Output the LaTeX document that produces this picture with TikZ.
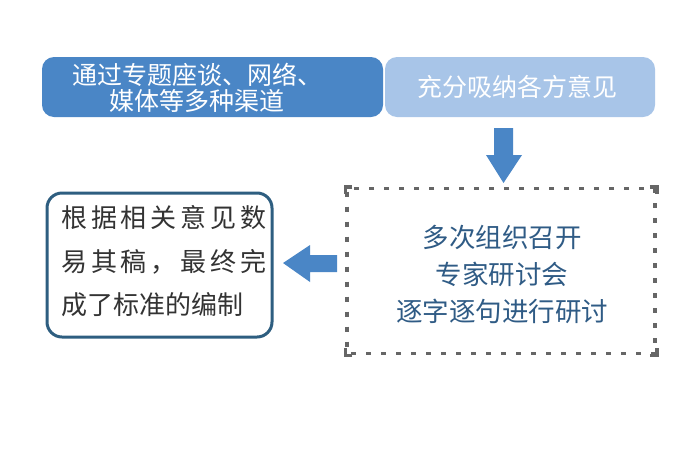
\documentclass[tikz,border=0pt]{standalone}
\usepackage{fontspec}
\setmainfont{Noto Sans CJK SC}
\newfontfamily\cjk{Noto Sans CJK SC}
\definecolor{darkblue}{HTML}{4A86C6}
\definecolor{lightblue}{HTML}{A8C5E8}
\definecolor{midtext}{HTML}{2F5B85}
\definecolor{frameblue}{HTML}{2E5E80}
\definecolor{dotgray}{HTML}{666666}
\definecolor{bodytext}{HTML}{333333}
\begin{document}
\begin{tikzpicture}[x=1pt,y=-1pt,
  topbox/.style={rounded corners=12pt, inner sep=0pt},
  toptext/.style={text=white, font=\cjk\fontsize{25}{26}\selectfont, align=center, inner sep=0pt},
  midtxt/.style={text=midtext, font=\cjk\fontsize{26.5}{37}\selectfont, align=center, inner sep=0pt},
  lefttxt/.style={text=bodytext, font=\cjk\fontsize{26}{30}\selectfont, anchor=west, inner sep=0pt},
  blockarrow/.style={fill=darkblue, draw=none}
]
\useasboundingbox (0,0) rectangle (700,469);
\fill[white] (0,0) rectangle (700,469);

% top boxes
\node[topbox, fill=darkblue, minimum width=341pt, minimum height=60pt] (src) at (212.5,87) {};
\node[topbox, fill=lightblue, minimum width=270pt, minimum height=60pt] (absorb) at (520,87) {};
\node[toptext] (srctxt) at (197,88) {通过专题座谈、网络、\\媒体等多种渠道};
\node[toptext] (absorbtxt) at (517,87) {充分吸纳各方意见};

% dotted box
\node[draw=dotgray, line width=3.5pt, dash pattern=on 5pt off 10pt, dash phase=-4pt,
      minimum width=308pt, minimum height=165pt, inner sep=0pt] (mid) at (501,271) {};
\foreach \c/\dx/\dy in {north west/1/1, north east/-1/1, south west/1/-1, south east/-1/-1}{
  \draw[dotgray, line width=3.5pt] ([xshift=\dx*7pt]mid.\c) -- (mid.\c) -- ([yshift=\dy*-7pt]mid.\c);
}
\node[midtxt] (midtxt) at (502,274) {多次组织召开\\专家研讨会\\逐字逐句进行研讨};

% left result box
\node[draw=frameblue, line width=3pt, rounded corners=15pt, minimum width=225pt, minimum height=144pt, inner sep=0pt] (result) at (159.5,265) {};
\node[lefttxt] (l1) at (61,218) {\makebox[205pt][l]{根\hfill 据\hfill 相\hfill 关\hfill 意\hfill 见\hfill 数}};
\node[lefttxt] (l2) at (61,262) {\makebox[205pt][l]{易\hfill 其\hfill 稿\hfill ，\hfill 最\hfill 终\hfill 完}};
\node[lefttxt] (l3) at (61,305) {成了标准的编制};

% block arrows
\fill[blockarrow] (494,128) -- (513,128) -- (513,155) -- (522,155) -- (503.5,183) -- (486,155) -- (494,155) -- cycle;
\fill[blockarrow] (337,255) -- (310,255) -- (310,245) -- (283,263) -- (310,282) -- (310,272) -- (337,272) -- cycle;
\end{tikzpicture}
\end{document}
